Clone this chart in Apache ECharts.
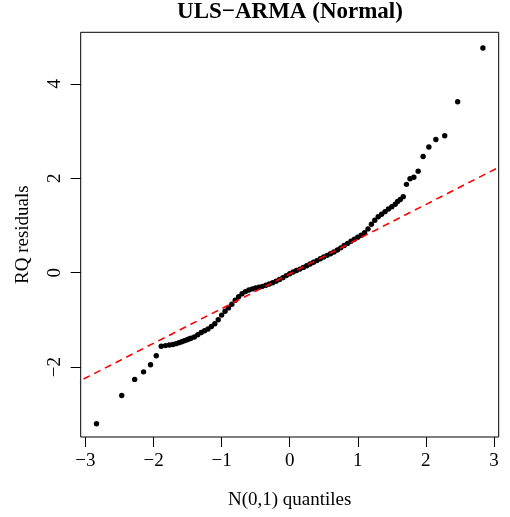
<!DOCTYPE html>
<html><head><meta charset="utf-8">
<script src="https://cdn.jsdelivr.net/npm/echarts@6/dist/echarts.min.js"></script>
<style>html,body{margin:0;padding:0;background:#fff}#c{width:510px;height:517px}</style>
</head><body><div id="c"></div>
<script>
// Theoretical N(0,1) quantiles (x) and RQ residuals (y)
const quantX = [
  -2.838, -2.467, -2.277, -2.147, -2.044, -1.960, -1.887, -1.824, -1.767, -1.715,
  -1.668, -1.626, -1.586, -1.549, -1.514, -1.481, -1.450,
  -1.40, -1.35, -1.30, -1.25, -1.20, -1.15, -1.10, -1.05, -1.00, -0.95,
  -0.90, -0.85, -0.80, -0.75, -0.70, -0.65, -0.60, -0.55, -0.50, -0.45,
  -0.40, -0.35, -0.30, -0.25, -0.20, -0.15, -0.10, -0.05, 0.00, 0.05,
  0.10, 0.15, 0.20, 0.25, 0.30, 0.35, 0.40, 0.45, 0.50, 0.55,
  0.60, 0.65, 0.70, 0.75, 0.80, 0.85, 0.90, 0.95, 1.00, 1.05,
  1.10, 1.15, 1.20, 1.25, 1.30, 1.35, 1.40, 1.45, 1.50, 1.55,
  1.585, 1.625, 1.668, 1.715, 1.767, 1.824, 1.887, 1.960, 2.044, 2.147,
  2.277, 2.467, 2.838
];
const residY = [
  -3.20, -2.60, -2.26, -2.10, -1.95, -1.76, -1.558, -1.544, -1.532, -1.520,
  -1.503, -1.482, -1.462, -1.443, -1.424, -1.406, -1.389,
  -1.362, -1.314, -1.266, -1.231, -1.194, -1.140, -1.081, -0.998, -0.899, -0.818,
  -0.746, -0.670, -0.583, -0.508, -0.445, -0.401, -0.366, -0.344, -0.325, -0.309,
  -0.290, -0.265, -0.239, -0.212, -0.180, -0.146, -0.106, -0.062, -0.023, 0.015,
  0.047, 0.075, 0.112, 0.146, 0.182, 0.219, 0.256, 0.294, 0.332, 0.367,
  0.401, 0.437, 0.480, 0.526, 0.575, 0.620, 0.665, 0.708, 0.751, 0.793,
  0.846, 0.927, 1.025, 1.110, 1.183, 1.237, 1.292, 1.349, 1.395, 1.450,
  1.507, 1.550, 1.610, 1.87, 1.99, 2.02, 2.15, 2.46, 2.66, 2.82,
  2.90, 3.62, 4.757
];
// Reference (qqline) end points
const refLineX = [-3.5, 3.5];
const refLineY = [-2.599, 2.547];
// Tick values
const xTicks = [-3, -2, -1, 0, 1, 2, 3];
const yTicks = [-2, 0, 2, 4];

const pts = quantX.map((x, i) => [x, residY[i]]);
const linePts = refLineX.map((x, i) => [x, refLineY[i]]);
const fmt = v => String(v).replace('-', '\u2212');
const FONT = 'Liberation Serif';

const chart = echarts.init(document.getElementById('c'), null, {renderer: 'canvas'});
chart.setOption({
  animation: false,
  backgroundColor: '#fff',
  title: {
    text: 'ULS\u2212ARMA (Normal)',
    left: 290, top: 1, textAlign: 'center', padding: 0,
    textStyle: {fontFamily: FONT, fontWeight: 'bold', fontSize: 23, color: '#000'}
  },
  grid: {left: 80.7, right: 11.3, top: 32.3, bottom: 80, show: true, borderColor: '#000', borderWidth: 1, backgroundColor: 'transparent'},
  xAxis: {
    type: 'value', min: -3.07, max: 3.07,
    splitLine: {show: false},
    axisLine: {show: false, onZero: false},
    axisTick: {show: true, length: 10, customValues: xTicks, lineStyle: {color: '#000', width: 1}},
    axisLabel: {customValues: xTicks, formatter: fmt, fontFamily: FONT, fontSize: 19, color: '#000', margin: 15},
    name: 'N(0,1) quantiles', nameLocation: 'middle', nameGap: 54,
    nameTextStyle: {fontFamily: FONT, fontSize: 19, color: '#000'}
  },
  yAxis: {
    type: 'value', min: -3.48, max: 5.09,
    splitLine: {show: false},
    axisLine: {show: false, onZero: false},
    axisTick: {show: true, length: 10, customValues: yTicks, lineStyle: {color: '#000', width: 1}},
    axisLabel: {customValues: yTicks, formatter: fmt, rotate: 90, fontFamily: FONT, fontSize: 19, color: '#000', margin: 16},
    name: 'RQ residuals', nameLocation: 'middle', nameGap: 48, nameRotate: 90,
    nameTextStyle: {fontFamily: FONT, fontSize: 19, color: '#000'}
  },
  series: [
    {type: 'scatter', data: pts, symbol: 'circle', symbolSize: 5.4, itemStyle: {color: '#000', opacity: 1}, z: 2, silent: true},
    {type: 'line', data: linePts, showSymbol: false, symbol: 'none', clip: true,
     lineStyle: {color: '#ff0000', width: 1.6, type: [7, 5], opacity: 1}, z: 3, silent: true}
  ]
});
</script>
</body></html>
